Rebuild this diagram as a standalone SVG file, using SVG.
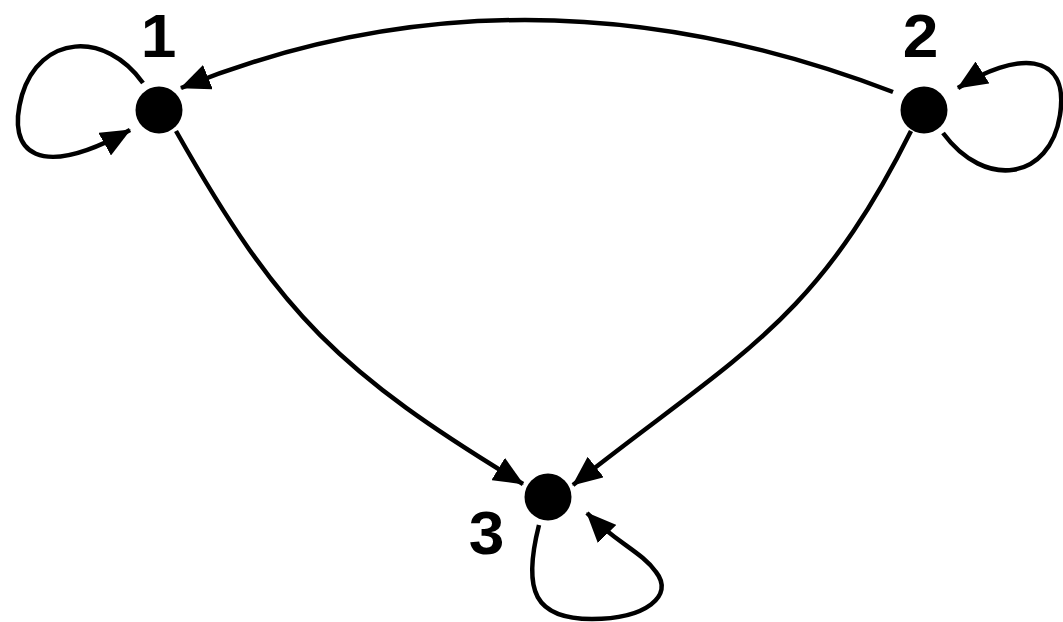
<svg xmlns="http://www.w3.org/2000/svg" width="1063" height="622" viewBox="0 0 1063 622">
<style>
.edge{fill:none;stroke:#000;stroke-width:4.5;marker-end:url(#arr)}
.node{fill:#000}
.lbl{font-family:"Liberation Sans",Arial,sans-serif;font-weight:bold;font-size:61px;fill:#000;text-anchor:middle}
</style>
<defs>
<marker id="arr" markerUnits="userSpaceOnUse" viewBox="0 0 30 26" refX="29" refY="13" markerWidth="30" markerHeight="26" orient="auto">
<path d="M0,0 L30,13 L0,26 z" fill="#000"/>
</marker>
</defs>
<rect width="1063" height="622" fill="#fff"/>
<g id="connectors">
<path class="edge" d="M893,92 Q523,-50 181,88"/>
<path class="edge" d="M176,131 C280,315 340,373 523,484"/>
<path class="edge" d="M911,131 C814,325 737,355 573,485"/>
<path class="edge" d="M143,83 C105,30 40,35 22,95 C5,155 40,180 130,130"/>
<path class="edge" d="M943,133 C985,190 1050,180 1060,115 C1070,50 1015,52 958,88"/>
<path class="edge" d="M539,525 C522,592 535,619 592,619 C645,619 675,596 656,572 C642,552 615,542 587,513"/>
</g>
<g id="node1">
<circle class="node" cx="159" cy="110" r="23.5"/>
<text class="lbl" transform="translate(158.5,57) scale(1.05,1)">1</text>
</g>
<g id="node2">
<circle class="node" cx="924" cy="110" r="23.5"/>
<text class="lbl" transform="translate(920.5,57) scale(1.05,1)">2</text>
</g>
<g id="node3">
<circle class="node" cx="548" cy="497" r="23.5"/>
<text class="lbl" transform="translate(486.5,554) scale(1.05,1)">3</text>
</g>
</svg>
